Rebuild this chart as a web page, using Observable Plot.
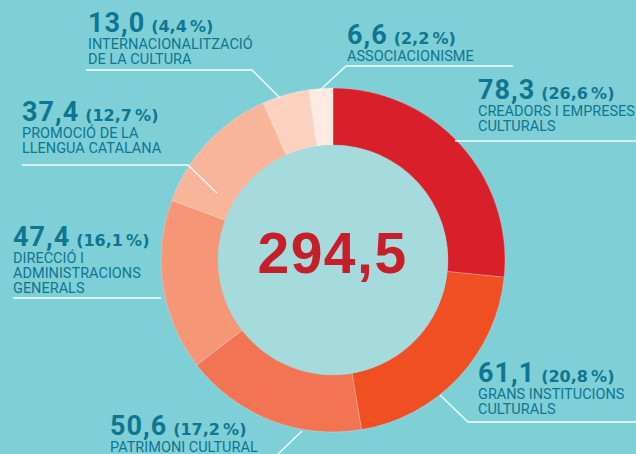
<!DOCTYPE html>
<html>
<head>
<meta charset="utf-8">
<script src="https://cdn.jsdelivr.net/npm/d3@7"></script>
<script src="https://cdn.jsdelivr.net/npm/@observablehq/plot@0.6"></script>
<style>
html, body { margin: 0; padding: 0; background: #7ED0D6; }
#chart svg { display: block; }
</style>
</head>
<body>
<div id="chart"></div>
<script>
// ---- data ----
const categories = [
  "CREADORS I EMPRESES CULTURALS",
  "GRANS INSTITUCIONS CULTURALS",
  "PATRIMONI CULTURAL",
  "DIRECCIÓ I ADMINISTRACIONS GENERALS",
  "PROMOCIÓ DE LA LLENGUA CATALANA",
  "INTERNACIONALITZACIÓ DE LA CULTURA",
  "ASSOCIACIONISME"
];
const values = [78.3, 61.1, 50.6, 47.4, 37.4, 13.0, 6.6];
const percents = [26.6, 20.8, 17.2, 16.1, 12.7, 4.4, 2.2];
const labelLines = [
  ["CREADORS I EMPRESES", "CULTURALS"],
  ["GRANS INSTITUCIONS", "CULTURALS"],
  ["PATRIMONI CULTURAL"],
  ["DIRECCIÓ I", "ADMINISTRACIONS", "GENERALS"],
  ["PROMOCIÓ DE LA", "LLENGUA CATALANA"],
  ["INTERNACIONALITZACIÓ", "DE LA CULTURA"],
  ["ASSOCIACIONISME"]
];
const totalLabel = 294.5;

// ---- styles / layout ----
const palette = ["#D9202A", "#F04E23", "#F37453", "#F59677", "#F9B59A", "#FBD1BF", "#FDEAE2"];
const teal = "#0E7693";
const center = {x: 333, y: 260, inner: 115, outer: 172};
const layout = [
  {x: 478, y: 99,  leader: [[455, 141], [636, 141]]},
  {x: 478, y: 382, leader: [[440, 395], [468, 422], [636, 422]]},
  {x: 110, y: 435, leader: [[302, 431], [276, 456]]},
  {x: 13,  y: 246, leader: [[13, 298], [161, 298]]},
  {x: 22,  y: 121, leader: [[22, 165], [188, 165], [217, 193]]},
  {x: 88,  y: 32,  leader: [[86, 70], [252, 70], [280, 98]]},
  {x: 347, y: 44,  leader: [[513, 66], [346, 66], [318, 92]]}
];

const fmt = d3.formatLocale({decimal: ",", thousands: "."}).format(".1f");
const data = categories.map((c, i) => ({category: c, value: values[i], percent: percents[i], lines: labelLines[i]}));
const total = d3.sum(values);

const donut = Plot.barX(data, {
  x: "value",
  fill: "category",
  render(index, scales, vals) {
    const arc = d3.arc().innerRadius(center.inner).outerRadius(center.outer);
    const g = d3.create("svg:g").attr("transform", `translate(${center.x},${center.y})`);
    g.selectAll("path").data(Array.from(index)).join("path")
      .attr("d", i => arc({startAngle: vals.x1[i], endAngle: vals.x2[i]}))
      .attr("fill", i => vals.fill[i])
      .attr("stroke", "#FFFFFF")
      .attr("stroke-opacity", 0.35)
      .attr("stroke-width", 0.6);
    g.append("circle").attr("r", center.inner - 0.3).attr("fill", "#A6DBDE");
    return g.node();
  }
});

function labelsMark() {
  const g = d3.create("svg:g").attr("text-anchor", "start");
  data.forEach((d, i) => {
    const L = layout[i];
    g.append("polyline")
      .attr("points", L.leader.map(p => p.join(",")).join(" "))
      .attr("fill", "none").attr("stroke", "#F4FCFC").attr("stroke-width", 1.3);
    const t = g.append("text").attr("x", L.x).attr("y", L.y).attr("text-anchor", "start")
      .attr("fill", teal).attr("font-weight", 700);
    t.append("tspan").attr("font-family", "Roboto, sans-serif").attr("font-size", 27)
      .attr("letter-spacing", 1).text(fmt(d.value));
    t.append("tspan").attr("dx", 6).attr("font-family", "DejaVu Sans, sans-serif")
      .attr("font-size", 16).text(`(${fmt(d.percent)}\u2009%)`);
    d.lines.forEach((line, j) => {
      g.append("text").attr("x", L.x).attr("y", L.y + 16.5 + j * 15).attr("text-anchor", "start")
        .attr("fill", teal).attr("font-family", "Roboto, sans-serif")
        .attr("font-size", 14.5).text(line);
    });
  });
  return g.node();
}

const chart = Plot.plot({
  width: 636,
  height: 454,
  margin: 0,
  style: {background: "#7ED0D6", overflow: "hidden"},
  x: {domain: [0, total], range: [0, 2 * Math.PI], axis: null},
  color: {domain: categories, range: palette},
  marks: [
    donut,
    labelsMark,
    Plot.text([totalLabel], {
      text: d => fmt(d),
      frameAnchor: "top-left",
      dx: center.x - 1,
      dy: 272,
      lineAnchor: "bottom",
      textAnchor: "middle",
      fontSize: 57,
      fontWeight: "bold",
      fontFamily: "Liberation Sans, Arial, sans-serif",
      fill: "#C61F2A",
      style: "letter-spacing: 1.5px"
    })
  ]
});
chart.querySelectorAll("text").forEach(t => { if (t.textContent === fmt(totalLabel)) t.setAttribute("letter-spacing", "1.5"); });
document.getElementById("chart").appendChild(chart);
</script>
</body>
</html>
